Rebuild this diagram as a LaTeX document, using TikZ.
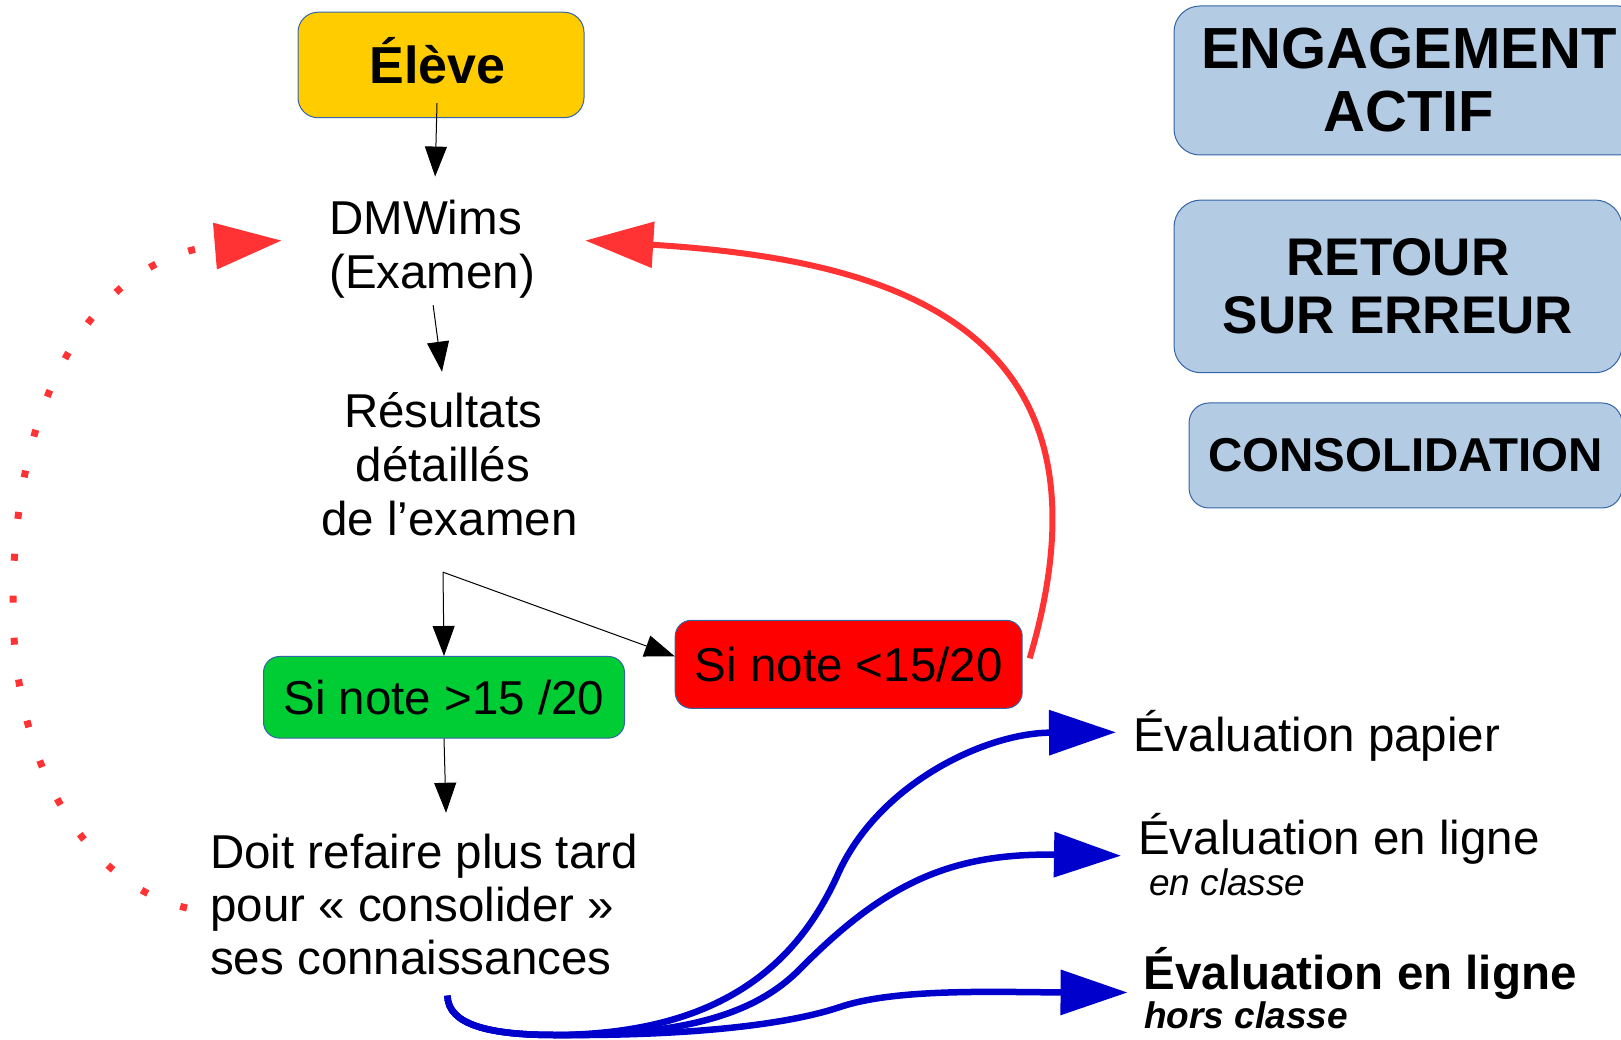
\documentclass[tikz,border=0pt]{standalone}
\usepackage{fontspec}
\setmainfont{Liberation Sans}
\usetikzlibrary{arrows.meta}
\definecolor{jaune}{HTML}{FFCC00}
\definecolor{vert}{HTML}{00CC33}
\definecolor{rouge}{HTML}{FF0000}
\definecolor{rougeclair}{HTML}{FF3333}
\definecolor{bleu}{HTML}{0000CC}
\definecolor{bleuclair}{HTML}{B4CBE4}
\definecolor{bord}{HTML}{3465A4}
\begin{document}
\begin{tikzpicture}[x=1pt,y=1pt,
        boite/.style={draw=bord,line width=1pt,inner sep=0pt,align=center},
        txt/.style={inner sep=0pt,font=\fontsize{47.5}{53.5}\selectfont},
        fleche/.style={line width=1pt,-{Triangle[length=30pt,width=22pt]}},
        retour/.style={line width=6pt,draw=rougeclair,-{Triangle[length=68pt,width=45pt]}},
        pointille/.style={line width=7pt,draw=rougeclair,dash pattern=on 7pt off 35pt,-{Triangle[length=67pt,width=45pt]}},
        eval/.style={line width=6.5pt,draw=bleu,-{Triangle[length=67pt,width=44pt]}}]
        \path[use as bounding box,clip] (0,0) rectangle (1621,1039);
        \node[boite,fill=jaune,rounded corners=20pt,minimum width=286pt,minimum height=105.5pt,text height=37pt,text depth=0pt,font=\fontsize{52}{60}\selectfont\bfseries] (eleve) at (441,974) {\hspace*{-7pt}Élève};
        \node[txt,anchor=base west,align=left] (dm) at (329,750.6) {DMWims\\(Examen)};
        \node[txt,anchor=base,align=center,font=\fontsize{47.5}{53.8}\selectfont] (res) at (443,503.5) {Résultats\\détaillés\\\hspace*{13pt}de l’examen};
        \node[boite,fill=vert,rounded corners=16pt,minimum width=361pt,minimum height=81.6pt,font=\fontsize{47.5}{53.5}\selectfont] (sup) at (444,341.7) {Si note >15 /20};
        \node[boite,fill=rouge,rounded corners=16pt,minimum width=347pt,minimum height=88pt,font=\fontsize{47.5}{53.5}\selectfont] (inf) at (848.7,374.7) {Si note <15/20};
        \node[txt,anchor=base west,align=left,font=\fontsize{47.5}{52.8}\selectfont] (doit) at (210,65) {Doit refaire plus tard\\pour « consolider »\\ses connaissances};
        \node[boite,fill=bleuclair,rounded corners=26pt,minimum width=470pt,minimum height=149pt,font=\fontsize{58}{63}\selectfont\bfseries] (engage) at (1409,958.5) {ENGAGEMENT\\ACTIF};
        \node[boite,fill=bleuclair,rounded corners=27pt,minimum width=448pt,minimum height=172.7pt,font=\fontsize{53}{58.5}\selectfont\bfseries] (erreur) at (1398,752.6) {RETOUR\\SUR ERREUR};
        \node[boite,fill=bleuclair,rounded corners=20pt,minimum width=433pt,minimum height=105pt,font=\fontsize{47.5}{53.5}\selectfont\bfseries] (conso) at (1405.5,583.5) {CONSOLIDATION};
        \node[txt,anchor=base west] (papier) at (1133,287.4) {Évaluation papier};
        \node[txt,anchor=base west] (enligne) at (1138,185) {Évaluation en ligne};
        \node[inner sep=0pt,anchor=base west,font=\fontsize{37}{42}\selectfont\itshape] (enclasse) at (1149,144) {en classe};
        \node[inner sep=0pt,anchor=base west,font=\fontsize{47.5}{53.5}\selectfont\bfseries] (horsligne) at (1143.5,49.5) {Évaluation en ligne};
        \node[inner sep=0pt,anchor=base west,font=\fontsize{37}{42}\selectfont\bfseries\itshape] (horsclasse) at (1144,10.4) {hors classe};
        \coordinate (fourche) at ([yshift=-36pt]res.south);
        \draw[fleche] ([xshift=-4pt,yshift=15pt]eleve.south) -- ([xshift=3pt,yshift=23.7pt]dm.north);
        \draw[fleche] ([xshift=1pt,yshift=-6.8pt]dm.south) -- ([xshift=-1pt,yshift=21pt]res.north);
        \draw[fleche] (fourche) -- (sup.north);
        \draw[fleche] (fourche) -- ([yshift=8pt]inf.west);
        \draw[fleche] (sup.south) -- ([xshift=22pt,yshift=21pt]doit.north);
        \draw[retour] ([xshift=7pt,yshift=6pt]inf.east) .. controls (1130,720) and (880,780) .. ([xshift=50pt,yshift=8.8pt]dm.east);
        %\draw[pointille] (doit.west) -- (dm.west);
        \draw[pointille] ([xshift=-23pt,yshift=-3.8pt]doit.west) .. controls (91.3,152.4) and (13,267.4) .. (13,434)
            .. controls (13,680) and (120,785) .. ([xshift=-47.3pt,yshift=8.8pt]dm.west);
        \draw[eval] ([xshift=23.4pt,yshift=-21pt]doit.south) .. controls (448,14) and (490,4) .. (555,4)
            .. controls (720,5) and (797,74) .. (838,165) .. controls (879,256) and (986,306) .. ([xshift=-17pt,yshift=19.3pt]papier.base west);
        \draw[eval] ([xshift=23.4pt,yshift=-21pt]doit.south) .. controls (448,14) and (490,4) .. (555,4)
            .. controls (690,3) and (758,27.4) .. (800,70) .. controls (884,155.2) and (950,186) .. ([xshift=-17pt,yshift=-1.7pt]enligne.base west);
        \draw[eval] ([xshift=23.4pt,yshift=-21pt]doit.south) .. controls (448,14) and (490,4) .. (555,4)
            .. controls (680,3) and (783,12.8) .. (840,32) .. controls (897,51.2) and (1000,46.7) .. ([xshift=-16pt,yshift=-3pt]horsligne.base west);
\end{tikzpicture}
\end{document}
